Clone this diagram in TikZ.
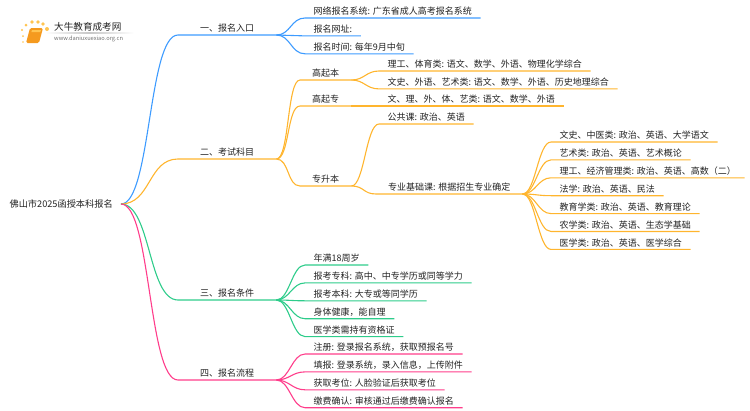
\documentclass[tikz,border=0pt]{standalone}
\usepackage{fontspec}
\setmainfont{Noto Sans CJK SC}
\usepackage{xcolor}
\usepackage{tikz}
\usetikzlibrary{positioning}
\definecolor{txtgray}{HTML}{222222}
\definecolor{urlgray}{HTML}{707070}
\definecolor{lineblue}{HTML}{3D9BFF}
\definecolor{lineorange}{HTML}{FFB52E}
\definecolor{linegreen}{HTML}{2ECC8B}
\definecolor{linepink}{HTML}{FF3D8B}
\definecolor{bookorange}{HTML}{F59A1F}
\definecolor{dotyellow}{HTML}{FFC451}

\begin{document}
\begin{tikzpicture}[
        x=1pt, y=-1pt,
        base/.style={anchor=south west, text=txtgray, inner ysep=1.5pt, text height=7pt, text depth=1.5pt, font=\fontsize{9}{11}\selectfont},
        branch/.style={base, inner xsep=22pt},
        mid/.style={base, inner xsep=12pt},
        leaf/.style={base, inner xsep=8.5pt},
        rootnode/.style={anchor=east, text=txtgray, inner xsep=8pt, inner ysep=0pt, font=\fontsize{9.2}{11}\selectfont},
        under/.style={below=6pt of #1.south west, anchor=north west},
        link/.style={out=0, in=180, distance=#1},
        wire/.style={line width=1.1pt, line join=round},
        blueline/.style={wire, draw=lineblue},
        orangeline/.style={wire, draw=lineorange},
        greenline/.style={wire, draw=linegreen},
        pinkline/.style={wire, draw=linepink},
        sundot/.style={fill=dotyellow}
    ]
        \useasboundingbox (0,0) rectangle (750,410);

        % Logo
        \foreach \dx/\dy/\dr in {23/42/0.8, 23/36/1, 22/30/1.2, 26/25/1.5, 32/22/1.8, 38/22/1.9, 43/24/1.9, 47/29/2}
            \fill[sundot] (\dx,\dy) circle (\dr);
        \fill[bookorange, rounded corners=1.5pt] (30,28) -- (43,28) -- (39,43) -- (26,43) -- cycle;
        \fill[dotyellow] (32,30) -- (41,30) -- (40.4,32) -- (31.4,32) -- cycle;
        \shade[left color=white, right color=white, middle color=black!22] (45,32.8) rectangle (134,33.4);
        \node[anchor=west, text=txtgray, inner sep=0pt, font=\fontsize{9.6}{11}\selectfont] (logoname) at (54,27) {大牛教育成考网};
        \node[anchor=west, text=urlgray, inner sep=0pt, font=\fontsize{5.7}{7}\selectfont] (logourl) at (54,38.5) {www.daniuxuexiao.org.cn};

        % Root
        \node[rootnode] (root) at (121,204) {佛山市2025函授本科报名};

        % Branch 1
        \node[branch] (entry) at (178,35) {一、报名入口};
        \node[leaf] (system) at (305,18) {网络报名系统: 广东省成人高考报名系统};
        \node[leaf, under=system] (site) {报名网址:};
        \node[leaf, under=site] (time) {报名时间: 每年9月中旬};

        % Branch 2
        \node[branch] (exam) at (178,159) {二、考试科目};
        \node[mid] (gqb) at (300,80) {高起本};
        \node[mid] (gqz) at (300,106) {高起专};
        \node[mid] (zsb) at (300,186) {专升本};
        \node[leaf] (sci) at (379,71) {理工、体育类: 语文、数学、外语、物理化学综合};
        \node[leaf, under=sci] (art) {文史、外语、艺术类: 语文、数学、外语、历史地理综合};
        \node[leaf] (all) at (379,106) {文、理、外、体、艺类: 语文、数学、外语};
        \node[leaf] (common) at (379,124) {公共课: 政治、英语};
        \node[mid] (major) at (376,194) {专业基础课: 根据招生专业确定};
        \node[leaf] (m1) at (551,142) {文史、中医类: 政治、英语、大学语文};
        \node[leaf, under=m1] (m2) {艺术类: 政治、英语、艺术概论};
        \node[leaf, under=m2] (m3) {理工、经济管理类: 政治、英语、高数（二）};
        \node[leaf, under=m3] (m4) {法学: 政治、英语、民法};
        \node[leaf, under=m4] (m5) {教育学类: 政治、英语、教育理论};
        \node[leaf, under=m5] (m6) {农学类: 政治、英语、生态学基础};
        \node[leaf, under=m6] (m7) {医学类: 政治、英语、医学综合};

        % Branch 3
        \node[branch] (cond) at (178,300) {三、报名条件};
        \node[leaf] (c1) at (305,265) {年满18周岁};
        \node[leaf, under=c1] (c2) {报考专科: 高中、中专学历或同等学力};
        \node[leaf, under=c2] (c3) {报考本科: 大专或等同学历};
        \node[leaf, under=c3] (c4) {身体健康，能自理};
        \node[leaf, under=c4] (c5) {医学类需持有资格证};

        % Branch 4
        \node[branch] (flow) at (178,380) {四、报名流程};
        \node[leaf] (f1) at (305,354) {注册: 登录报名系统，获取预报名号};
        \node[leaf, under=f1] (f2) {填报: 登录系统，录入信息，上传附件};
        \node[leaf, under=f2] (f3) {获取考位: 人脸验证后获取考位};
        \node[leaf, under=f3] (f4) {缴费确认: 审核通过后缴费确认报名};

        % Blue links
        \draw[blueline] (root.east) to[link=30pt] (entry.south west) -- (entry.south east);
        \foreach \n in {system, site, time}
            \draw[blueline] (entry.south east) to[link=14pt] (\n.south west) -- (\n.south east);

        % Orange links
        \draw[orangeline] (root.east) to[link=30pt] (exam.south west) -- (exam.south east);
        \foreach \n in {gqb, gqz, zsb}
            \draw[orangeline] (exam.south east) to[link=13pt] (\n.south west) -- (\n.south east);
        \foreach \n in {sci, art}
            \draw[orangeline] (gqb.south east) to[link=13pt] (\n.south west) -- (\n.south east);
        \draw[orangeline] (gqz.south east) -- (all.south west) -- (all.south east);
        \foreach \n in {common, major}
            \draw[orangeline] (zsb.south east) to[link=13pt] (\n.south west) -- (\n.south east);
        \foreach \n in {m1, m2, m3, m4, m5, m6, m7}
            \draw[orangeline] (major.south east) to[link=13pt] (\n.south west) -- (\n.south east);

        % Green links
        \draw[greenline] (root.east) to[link=30pt] (cond.south west) -- (cond.south east);
        \foreach \n in {c1, c2, c3, c4, c5}
            \draw[greenline] (cond.south east) to[link=13pt] (\n.south west) -- (\n.south east);

        % Pink links
        \draw[pinkline] (root.east) to[link=30pt] (flow.south west) -- (flow.south east);
        \foreach \n in {f1, f2, f3, f4}
            \draw[pinkline] (flow.south east) to[link=13pt] (\n.south west) -- (\n.south east);
    \end{tikzpicture}
\end{document}
